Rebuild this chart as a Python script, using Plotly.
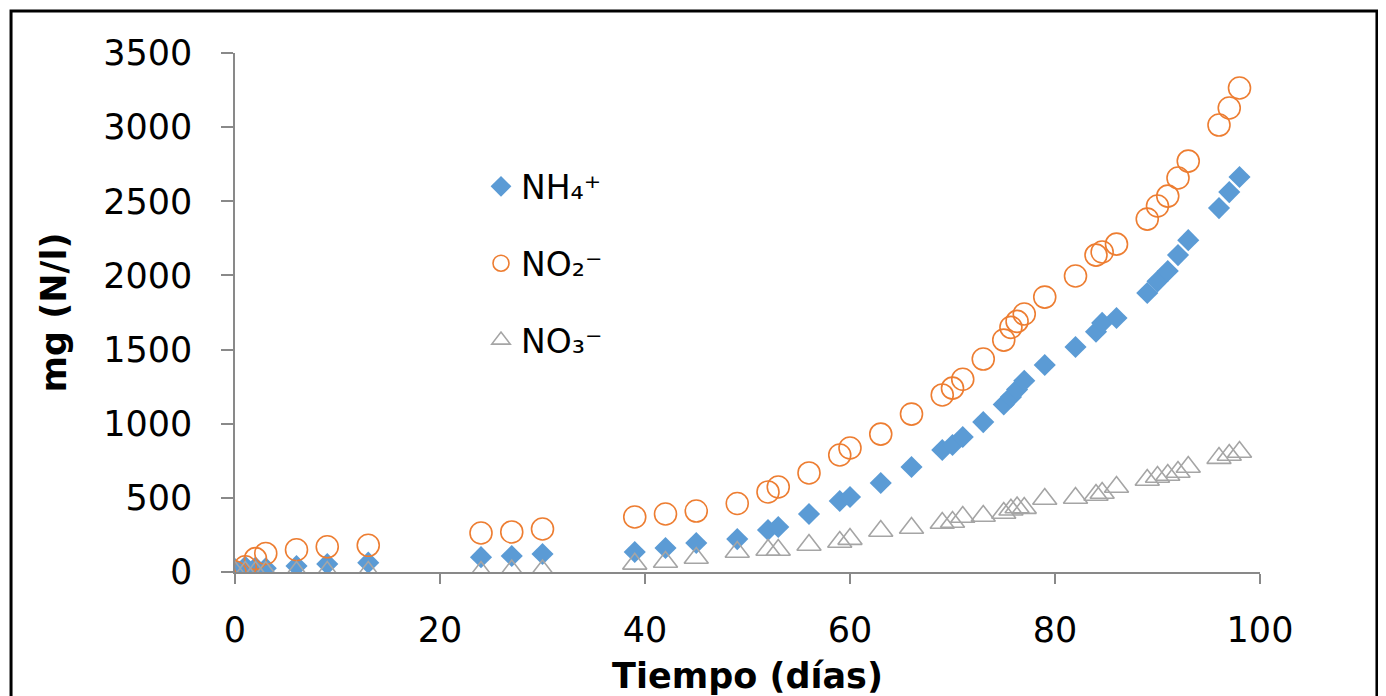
import plotly.graph_objects as go

# tiempo (dias) y concentraciones mg (N/l)
dias = [0, 1, 2, 3, 6, 9, 13, 24, 27, 30, 39, 42, 45, 49, 52, 53, 56, 59, 60, 63,
        66, 69, 70, 71, 73, 75, 75.7, 76.3, 77, 79, 82, 84, 84.6, 86, 89, 90, 91,
        92, 93, 96, 97, 98]
nh4 = [20, 35, 30, 25, 40, 54, 63, 100, 108, 121, 135, 162, 196, 222, 283, 303,
       391, 479, 506, 600, 708, 823, 856, 910, 1011, 1130, 1180, 1230, 1290, 1396,
       1517, 1620, 1680, 1713, 1881, 1960, 2030, 2137, 2238, 2454, 2562, 2664]
no2 = [0, 35, 90, 125, 150, 170, 180, 263, 270, 290, 371, 391, 411, 462, 540, 573,
       668, 789, 836, 930, 1065, 1194, 1240, 1300, 1436, 1564, 1650, 1690, 1740,
       1854, 1996, 2137, 2158, 2211, 2380, 2468, 2535, 2657, 2771, 3014, 3129, 3264]
no3 = [0, 0, 0, 0, 0, 0, 0, 0, 10, 10, 55, 67, 94, 135, 148, 148, 182, 202, 222,
       276, 297, 330, 337, 371, 378, 398, 420, 435, 431, 492, 499, 519, 533, 573,
       620, 641, 654, 674, 708, 768, 789, 809]

series = ['NH\u2084\u207a', 'NO\u2082\u207b', 'NO\u2083\u207b']

azul = '#5B9BD5'
naranja = '#ED7D31'
gris = '#A5A5A5'
eje = '#898989'
fuente = 'DejaVu Sans'

fig = go.Figure()
fig.add_trace(go.Scatter(x=dias, y=nh4, mode='markers', name=series[0], legendgroup='a',
                         marker=dict(symbol='diamond', size=17, color=azul)))
fig.add_trace(go.Scatter(x=dias, y=no2, mode='markers', name=series[1], legendgroup='b',
                         marker=dict(symbol='circle-open', size=22, color=naranja,
                                     line=dict(width=1.6, color=naranja))))
fig.add_trace(go.Scatter(x=dias, y=no3, mode='markers', name=series[2], legendgroup='c',
                         marker=dict(symbol='triangle-up-open', size=21, color=gris,
                                     line=dict(width=1.6, color=gris))))

fig.update_xaxes(range=[0, 100], dtick=20, showgrid=False, zeroline=False,
                 showline=True, linecolor=eje, linewidth=1.5,
                 ticks='outside', ticklen=10, tickcolor=eje, tickwidth=1.5,
                 ticklabelstandoff=16,
                 tickfont=dict(family=fuente, size=35, color='#000'),
                 title=dict(text='<b>Tiempo (días)</b>', standoff=15,
                            font=dict(family=fuente, size=35, color='#000')))
fig.update_yaxes(range=[0, 3500], dtick=500, showgrid=False, zeroline=False,
                 showline=True, linecolor=eje, linewidth=1.5,
                 ticks='outside', ticklen=12, tickcolor=eje, tickwidth=1.5,
                 ticklabelstandoff=22,
                 tickfont=dict(family=fuente, size=35, color='#000'),
                 title=dict(text='<b>mg (N/l)</b>', standoff=26,
                            font=dict(family=fuente, size=35, color='#000')))

fig.update_layout(
  width=1386, height=696,
  margin=dict(l=227, r=134, t=45, b=132),
  plot_bgcolor='white', paper_bgcolor='white',
  font=dict(family=fuente, color='#000'),
  legend=dict(x=0.24, y=0.797, xanchor='left', yanchor='top',
              font=dict(family=fuente, size=33, color='#000'),
              tracegroupgap=31, bgcolor='rgba(0,0,0,0)', itemwidth=30),
  shapes=[dict(type='rect', xref='paper', yref='paper',
               x0=-0.2185, x1=1.1141, y0=-0.3, y1=1.081,
               line=dict(color='black', width=3))]
)

fig.write_html("out.html")
